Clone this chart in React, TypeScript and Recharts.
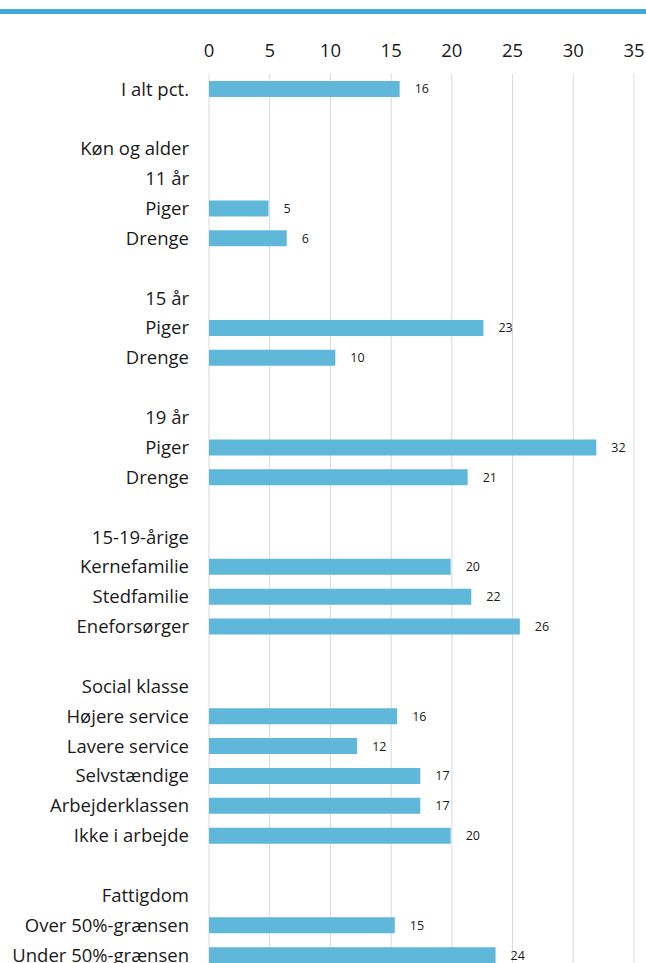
import { BarChart, Bar, XAxis, YAxis, CartesianGrid, LabelList } from "recharts"

const labels = [
  "I alt pct.", "", "Køn og alder", "11 år", "Piger", "Drenge", "",
  "15 år", "Piger", "Drenge", "", "19 år", "Piger", "Drenge", "",
  "15-19-årige", "Kernefamilie", "Stedfamilie", "Eneforsørger", "",
  "Social klasse", "Højere service", "Lavere service", "Selvstændige", "Arbejderklassen", "Ikke i arbejde", "",
  "Fattigdom", "Over 50%-grænsen", "Under 50%-grænsen",
]

// bar lengths
const values = [
  15.7, null, null, null, 4.9, 6.4, null,
  null, 22.6, 10.4, null, null, 31.9, 21.3, null,
  null, 19.9, 21.6, 25.6, null,
  null, 15.5, 12.2, 17.4, 17.4, 19.9, null,
  null, 15.3, 23.6,
]

// printed value labels
const shown = [
  16, null, null, null, 5, 6, null,
  null, 23, 10, null, null, 32, 21, null,
  null, 20, 22, 26, null,
  null, 16, 12, 17, 17, 20, null,
  null, 15, 24,
]

const xTicks = [0, 5, 10, 15, 20, 25, 30, 35]

const data = labels.map((name, i) => ({ id: i, name, value: values[i], shown: shown[i] }))

const font = "'Open Sans', Lato, sans-serif"

export default function App() {
  return (
    <div style={{ position: "fixed", left: 0, top: 0, width: 646, height: 963, overflow: "hidden", background: "#fff", fontFamily: font }}>
      <div style={{ position: "absolute", left: 0, top: 9, width: 646, height: 5, background: "#41a9d8" }} />
      <BarChart
        width={646}
        height={975}
        data={data}
        layout="vertical"
        margin={{ top: 44, right: 12, bottom: 5, left: 0 }}
        barSize={16}
      >
        <CartesianGrid horizontal={false} stroke="#d9d9d9" />
        <XAxis
          type="number"
          orientation="top"
          domain={[0, 35]}
          ticks={xTicks}
          axisLine={false}
          tickLine={false}
          tickSize={0}
          tickMargin={17}
          height={30}
          interval={0}
          tick={{ fill: "#1a1a1a", fontSize: 18.5, fontFamily: font }}
        />
        <YAxis
          type="category"
          dataKey="id"
          width={209}
          axisLine={false}
          tickLine={false}
          tickSize={0}
          tickMargin={20}
          interval={0}
          tickFormatter={(i: number) => labels[i]}
          tick={{ fill: "#1a1a1a", fontSize: 18.5, fontFamily: font }}
        />
        <Bar dataKey="value" fill="#5fb7d9" isAnimationActive={false}>
          <LabelList dataKey="shown" position="right" offset={15} fill="#1a1a1a" fontSize={12.5} fontFamily={font} />
        </Bar>
      </BarChart>
    </div>
  )
}
